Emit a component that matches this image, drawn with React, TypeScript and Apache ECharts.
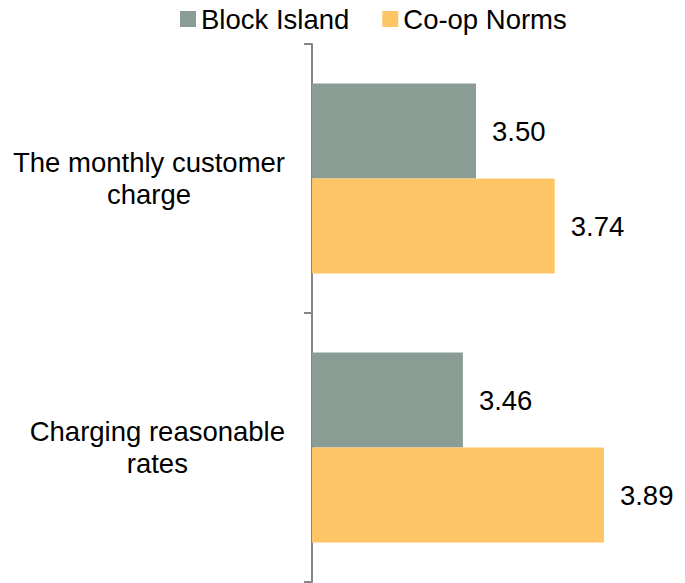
import React, { useEffect, useRef } from "react";
import * as echarts from "echarts";

const categories = ["The monthly customer\ncharge", "Charging reasonable\nrates"];
const seriesNames = ["Block Island", "Co-op Norms"];
const blockIsland = [3.5, 3.46];
const coopNorms = [3.74, 3.89];
const colors = ["#8A9D95", "#FDC566"];

export default function App() {
  const ref = useRef<HTMLDivElement>(null);
  useEffect(() => {
    if (!ref.current) return;
    const chart = echarts.init(ref.current, undefined, { renderer: "svg" });
    const font = "Liberation Sans, Arial, sans-serif";
    const fs = 27.5;
    chart.setOption({
      animation: false,
      textStyle: { fontFamily: font },
      legend: {
        data: seriesNames,
        top: 5,
        left: 180,
        padding: 0,
        itemWidth: 16,
        itemHeight: 16,
        itemGap: 33,
        icon: "rect",
        textStyle: { fontSize: fs, color: "#000", fontFamily: font },
      },
      grid: { left: 312, right: 45, top: 44, bottom: 1, containLabel: false },
      xAxis: {
        type: "value",
        min: 3,
        max: 4,
        show: false,
      },
      yAxis: {
        type: "category",
        data: categories,
        inverse: true,
        axisLine: { show: true, lineStyle: { color: "#868686", width: 2 } },
        axisTick: { show: true, length: 8, lineStyle: { color: "#868686", width: 2 } },
        axisLabel: {
          fontSize: fs,
          color: "#000",
          align: "right",
          margin: 27,
          lineHeight: 32,
          fontFamily: font,
          formatter: (v: string) =>
            v
              .split("\n")
              .map((s) => "{c|" + s + "}")
              .join("\n"),
          rich: {
            c: {
              align: "center",
              fontSize: fs,
              lineHeight: 32,
              color: "#000",
              fontFamily: font,
            },
          },
        },
      },
      series: [
        {
          name: seriesNames[0],
          type: "bar",
          data: blockIsland,
          barWidth: 95,
          barGap: "0%",
          itemStyle: { color: colors[0] },
          label: {
            show: true,
            position: "right",
            distance: 16,
            fontSize: fs,
            color: "#000",
            fontFamily: font,
            formatter: (p: any) => Number(p.value).toFixed(2),
          },
        },
        {
          name: seriesNames[1],
          type: "bar",
          data: coopNorms,
          barWidth: 95,
          barGap: "0%",
          itemStyle: { color: colors[1] },
          label: {
            show: true,
            position: "right",
            distance: 16,
            fontSize: fs,
            color: "#000",
            fontFamily: font,
            formatter: (p: any) => Number(p.value).toFixed(2),
          },
        },
      ],
    });
    return () => chart.dispose();
  }, []);
  return <div ref={ref} style={{ width: 685, height: 583, position: "absolute", left: 0, top: 0 }} />;
}
